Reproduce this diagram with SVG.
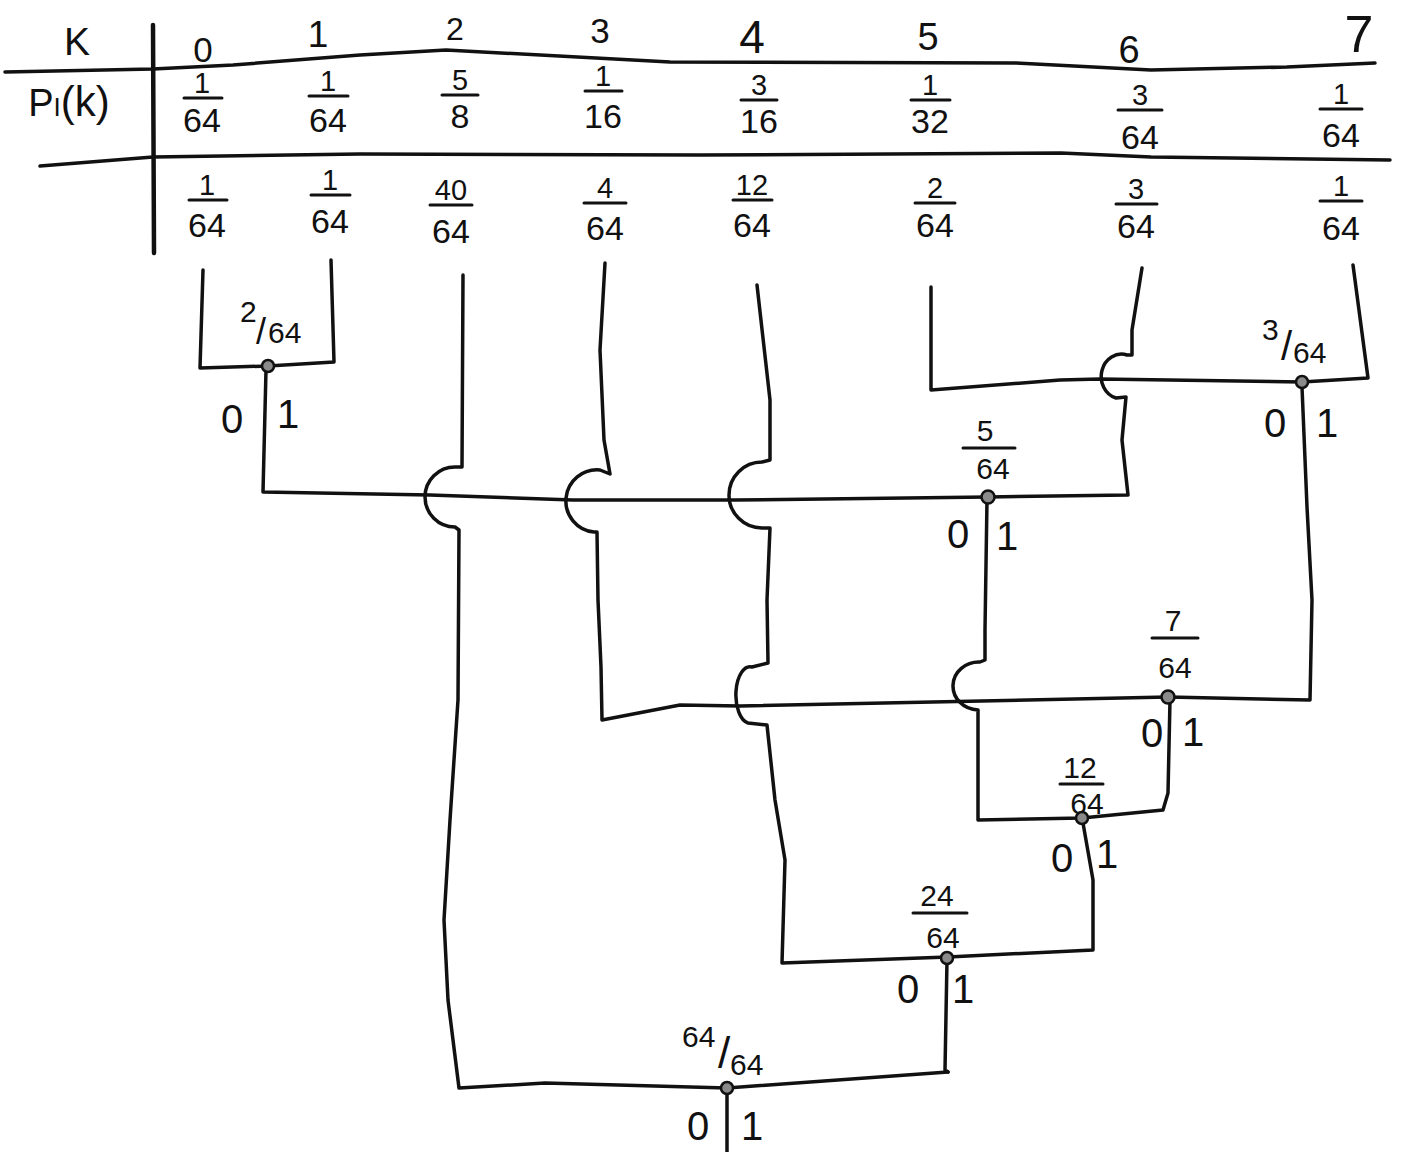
<svg xmlns="http://www.w3.org/2000/svg" width="1408" height="1152" viewBox="0 0 1408 1152">
<style>
.ln{fill:none;stroke:#111;stroke-width:3.5;stroke-linejoin:round;stroke-linecap:round}
.bar{fill:none;stroke:#111;stroke-width:3;stroke-linecap:round}
.t{font-family:"Liberation Sans",Arial,sans-serif;fill:#111;text-anchor:middle}
.n{font-size:29px}
.d{font-size:34px}
.b{font-size:40px}
.s{font-size:30px}
.dot{fill:#8a8a8a;stroke:#111;stroke-width:2.5}
</style>
<rect width="1408" height="1152" fill="#fff"/>

<g id="table">
  <path class="ln" d="M153,25 L154,253" style="stroke-width:4.5"/>
  <path class="ln" d="M5,72 L153,69 L233,65 L360,55 L446,50 L670,62 L1016,63 L1151,70 L1287,67 L1375,63"/>
  <path class="ln" d="M40,166 L153,157 L360,154 L700,155 L1061,153 L1151,157 L1390,160"/>
  <text class="t" x="77" y="55" style="font-size:39px">K</text>
  <text class="t" x="203" y="62" style="font-size:35px">0</text>
  <text class="t" x="318" y="47" style="font-size:37px">1</text>
  <text class="t" x="455" y="40" style="font-size:32px">2</text>
  <text class="t" x="600" y="43" style="font-size:35px">3</text>
  <text class="t" x="752" y="53" style="font-size:46px">4</text>
  <text class="t" x="928" y="50" style="font-size:38px">5</text>
  <text class="t" x="1129" y="63" style="font-size:38px">6</text>
  <text class="t" x="1359" y="52" style="font-size:52px">7</text>
  <text class="t" x="69" y="116" style="font-size:38px">P<tspan style="font-size:26px">I</tspan><tspan style="font-size:42px">(k)</tspan></text>

  <g id="row-pi">
    <text class="t n" x="202" y="93">1</text><path class="bar" d="M184,98 H222"/><text class="t d" x="202" y="132">64</text>
    <text class="t n" x="328" y="91">1</text><path class="bar" d="M309,96 H348"/><text class="t d" x="328" y="132">64</text>
    <text class="t n" x="460" y="90">5</text><path class="bar" d="M442,95 H478"/><text class="t d" x="460" y="128">8</text>
    <text class="t n" x="603" y="86">1</text><path class="bar" d="M585,91 H622"/><text class="t d" x="603" y="128">16</text>
    <text class="t n" x="759" y="95">3</text><path class="bar" d="M741,100 H777"/><text class="t d" x="759" y="133">16</text>
    <text class="t n" x="930" y="95">1</text><path class="bar" d="M911,100 H950"/><text class="t d" x="930" y="133">32</text>
    <text class="t n" x="1140" y="105">3</text><path class="bar" d="M1118,110 H1162"/><text class="t d" x="1140" y="149">64</text>
    <text class="t n" x="1341" y="104">1</text><path class="bar" d="M1320,109 H1362"/><text class="t d" x="1341" y="147">64</text>
  </g>
  <g id="row-64">
    <text class="t n" x="207" y="195">1</text><path class="bar" d="M189,200 H227"/><text class="t d" x="207" y="237">64</text>
    <text class="t n" x="330" y="190">1</text><path class="bar" d="M311,195 H350"/><text class="t d" x="330" y="233">64</text>
    <text class="t n" x="451" y="200">40</text><path class="bar" d="M430,205 H472"/><text class="t d" x="451" y="243">64</text>
    <text class="t n" x="605" y="198">4</text><path class="bar" d="M584,203 H626"/><text class="t d" x="605" y="240">64</text>
    <text class="t n" x="752" y="195">12</text><path class="bar" d="M733,200 H772"/><text class="t d" x="752" y="237">64</text>
    <text class="t n" x="935" y="198">2</text><path class="bar" d="M915,203 H955"/><text class="t d" x="935" y="237">64</text>
    <text class="t n" x="1136" y="199">3</text><path class="bar" d="M1116,204 H1157"/><text class="t d" x="1136" y="238">64</text>
    <text class="t n" x="1341" y="196">1</text><path class="bar" d="M1320,201 H1362"/><text class="t d" x="1341" y="240">64</text>
  </g>
</g>

<g id="connectors">
  <path class="ln" d="M203,270 L200,368 L268,366 L334,362 L331,260"/>
  <path class="ln" d="M266,370 L263,492 L430,495 L573,500 L735,500 L988,497"/>
  <path class="ln" d="M463,275 L462,467 L455,467 A30,30 0 0 0 455,527 L459,530 L458,700 L450,820 L444,920 L448,1000 L459,1088 L545,1083 L727,1088 L948,1072"/>
  <path class="ln" d="M605,263 L600,350 L604,440 L610,474 L600,470 A31,31 0 0 0 594,532 L597,532 L598,600 L601,667 L602,720 L680,705 L740,706 L1168,697"/>
  <path class="ln" d="M757,285 L770,400 L770,460 L762,462 A33,33 0 0 0 762,528 L770,528 L767,600 L768,663 L752,667 A14,28 0 0 0 748,723 L767,725 L775,800 L785,860 L782,963 L948,957"/>
  <path class="ln" d="M931,287 L931,390 L1060,380 L1100,379 L1302,382 L1368,378 L1353,265"/>
  <path class="ln" d="M1142,268 L1132,330 L1132,355 L1127,355 A20,22 0 0 0 1116,398 L1126,397 L1122,440 L1128,495 L988,497"/>
  <path class="ln" d="M1302,387 L1307,507 L1312,600 L1310,700 L1168,697"/>
  <path class="ln" d="M987,500 L985,630 L985,660 L980,662 A26,24 0 0 0 978,710 L978,820 L1082,818 L1163,810 L1168,793 L1170,700"/>
  <path class="ln" d="M1083,823 L1093,880 L1093,950 L948,957"/>
  <path class="ln" d="M947,960 L945,1070 L948,1072"/>
  <path class="ln" d="M727,1093 L727,1152"/>
</g>

<g id="node-2-64">
  <text class="t s" style="text-anchor:start"><tspan x="240" y="322">2</tspan><tspan x="256" y="344" style="font-size:36px">/</tspan><tspan x="268" y="343">64</tspan></text>
  <circle class="dot" cx="268" cy="366" r="6"/>
  <text class="t b" x="232" y="433">0</text>
  <text class="t b" x="288" y="428">1</text>
</g>
<g id="node-3-64">
  <text class="t s" style="text-anchor:start"><tspan x="1262" y="340">3</tspan><tspan x="1281" y="360" style="font-size:40px">/</tspan><tspan x="1293" y="363">64</tspan></text>
  <circle class="dot" cx="1302" cy="382" r="6"/>
  <text class="t b" x="1275" y="437">0</text>
  <text class="t b" x="1327" y="437">1</text>
</g>
<g id="node-5-64">
  <text class="t s" x="985" y="441">5</text>
  <path class="bar" d="M963,448 H1015"/>
  <text class="t s" x="993" y="479">64</text>
  <circle class="dot" cx="988" cy="497" r="6.5"/>
  <text class="t b" x="958" y="548">0</text>
  <text class="t b" x="1007" y="550">1</text>
</g>
<g id="node-7-64">
  <text class="t s" x="1173" y="631">7</text>
  <path class="bar" d="M1152,638 H1198"/>
  <text class="t s" x="1175" y="678">64</text>
  <circle class="dot" cx="1168" cy="697" r="6.5"/>
  <text class="t b" x="1152" y="747">0</text>
  <text class="t b" x="1193" y="746">1</text>
</g>
<g id="node-12-64">
  <text class="t s" x="1080" y="778">12</text>
  <path class="bar" d="M1060,784 H1103"/>
  <text class="t s" x="1087" y="814">64</text>
  <circle class="dot" cx="1082" cy="818" r="6"/>
  <text class="t b" x="1062" y="872">0</text>
  <text class="t b" x="1107" y="868">1</text>
</g>
<g id="node-24-64">
  <text class="t s" x="937" y="906">24</text>
  <path class="bar" d="M913,913 H967"/>
  <text class="t s" x="943" y="948">64</text>
  <circle class="dot" cx="947" cy="958" r="6"/>
  <text class="t b" x="908" y="1003">0</text>
  <text class="t b" x="963" y="1003">1</text>
</g>
<g id="node-64-64">
  <text class="t s" style="text-anchor:start"><tspan x="682" y="1047">64</tspan><tspan x="718" y="1068" style="font-size:44px">/</tspan><tspan x="730" y="1075">64</tspan></text>
  <circle class="dot" cx="727" cy="1088" r="6"/>
  <text class="t b" x="698" y="1140">0</text>
  <text class="t b" x="752" y="1140">1</text>
</g>
</svg>
